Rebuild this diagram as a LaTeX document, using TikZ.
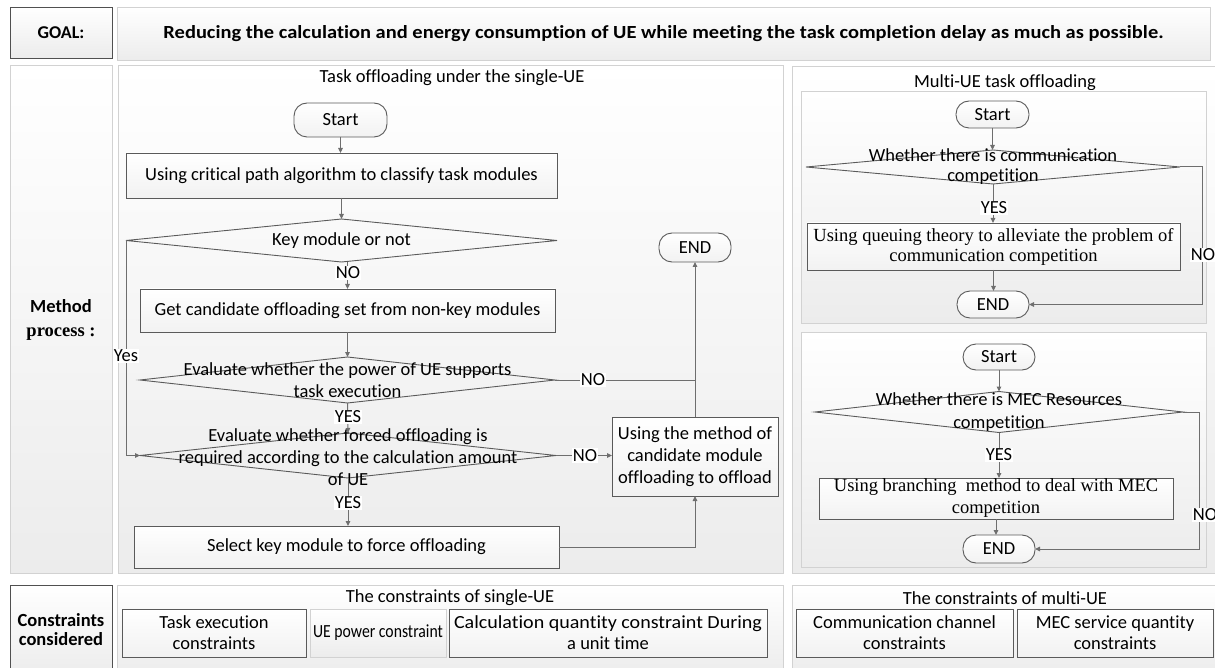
\documentclass[tikz,border=0pt]{standalone}
\usepackage{fontspec}
\setmainfont{Carlito}[Ligatures=NoCommon]
\newfontfamily\tnr{Liberation Serif}
\usetikzlibrary{arrows.meta}
\definecolor{pbord}{HTML}{D2D2D2}
\definecolor{pfill}{HTML}{ECECEC}
\definecolor{bbord}{HTML}{5A5A5A}
\definecolor{lcol}{HTML}{6E6E6E}
\definecolor{hbord}{HTML}{505050}
\begin{document}
\begin{tikzpicture}[x=1pt,y=-1pt,
  every node/.style={font=\fontsize{18.5}{22}\selectfont, text=black, inner sep=0pt, outer sep=0pt},
  sz/.style 2 args={minimum width=#1, minimum height=#2},
  panel/.style={draw=pbord, line width=0.8pt, top color=white, bottom color=pfill},
  headbox/.style={draw=hbord, line width=0.9pt, top color=white, bottom color=pfill},
  proc/.style={draw=bbord, line width=0.9pt, top color=white, bottom color=pfill!70},
  term/.style={proc, rounded corners=13pt},
  dia/.style={draw=bbord, line width=0.9pt},
  conn/.style={draw=lcol, line width=1pt, -{Triangle[length=5pt,width=4.5pt]}},
  plain/.style={draw=lcol, line width=1pt},
  lab/.style={fill=white, inner sep=1pt},
  sertext/.style={font=\tnr\fontsize{18.5}{20}\selectfont, align=center},
  cfont/.style={font=\fontsize{18.5}{21}\selectfont, align=center},
]
\useasboundingbox (0,0) rectangle (1215,668);
\fill[white] (0,0) rectangle (1215,668);

% ---------- header row ----------
\node[headbox, sz={102}{51}] (goal) at (61,32.5) {\fontsize{18}{20}\selectfont\bfseries GOAL:};
\node[panel, sz={1093}{53}] (goaltext) at (663.5,33.5)
  {\resizebox{1000pt}{\height}{\fontsize{18.5}{20}\selectfont\bfseries Reducing the calculation and energy consumption of UE while meeting the task completion delay as much as possible.}};

% ---------- method row ----------
\node[panel, sz={102}{508}] (method) at (61,319) {};
\node[align=center] (methodt) at (61,320) {{\bfseries Method}\\[2pt]{\tnr\bfseries process :}};
\node[panel, sz={665}{508}] (single) at (450.5,319) {};
\node (singlet) at (452,78) {Task offloading under the single-UE};
\node[panel, sz={428}{507}] (right) at (1006,319.5) {};
\node (multit) at (1005,83) {Multi-UE task offloading};
\node[panel, sz={405}{232}] (rbox1) at (1003.5,207) {};
\node[panel, sz={405}{235}] (rbox2) at (1003.5,449.5) {};

% ---------- constraints row ----------
\node[headbox, sz={102}{90}] (cons) at (61,630) {};
\node[align=center] (const) at (61,629.5) {\bfseries Constraints\\[-3pt]\bfseries considered};
\node[panel, sz={666}{90}] (cs) at (450,630) {};
\node[cfont] (cst) at (450,598) {The constraints of single-UE};
\node[panel, sz={428}{90}] (cm) at (1006,630) {};
\node[cfont] (cmt) at (1005,598) {The constraints of multi-UE};
\node[proc, sz={184}{48}, cfont] (te) at (214,633) {Task execution\\constraints};
\node[draw=pbord, line width=0.9pt, top color=white, bottom color=pfill, sz={136}{48}, cfont] (up) at (378,633) {\resizebox{130pt}{\height}{UE power constraint}};
\node[proc, sz={318}{48}, cfont] (calc) at (608,633) {\resizebox{308pt}{\height}{Calculation quantity constraint During}\\a unit time};
\node[proc, sz={217}{48}, cfont] (comm) at (904.5,633) {Communication channel\\constraints};
\node[proc, sz={196}{48}, cfont] (mec) at (1115,633) {MEC service quantity\\constraints};

% ---------- single-UE flow ----------
\node[term, sz={93}{34}] (s1) at (340.5,120) {Start};
\node[proc, sz={431}{45}] (b1) at (341.5,175.5) {Using critical path algorithm to classify task modules};
\node[sz={431}{43}] (d1) at (341.5,240.5) {};
\draw[dia] (d1.west) -- (d1.north) -- (d1.east) -- (d1.south) -- cycle;
\node (d1t) at (341.5,240.5) {Key module or not};
\node[proc, sz={415}{43}] (b2) at (347.5,310.5) {Get candidate offloading set from non-key modules};
\node[sz={415}{46}] (d2) at (347.5,380) {};
\draw[dia] (d2.west) -- (d2.north) -- (d2.east) -- (d2.south) -- cycle;
\node[align=center] (d2t) at (347.5,380) {Evaluate whether the power of UE supports\\task execution};
\node[sz={416}{45}] (d3) at (348,455.5) {};
\draw[dia] (d3.west) -- (d3.north) -- (d3.east) -- (d3.south) -- cycle;
\node[align=center] (d3t) at (348,457) {Evaluate whether forced offloading is\\required according to the calculation amount\\of UE};
\node[proc, sz={425}{42}] (sel) at (346.5,547) {Select key module to force offloading};
\node[proc, sz={166}{79}, align=center] (um) at (695,456.5) {Using the method of\\candidate module\\offloading to offload};
\node[term, sz={72}{29}] (end1) at (695,247.5) {END};

\draw[conn] (s1.south) -- (s1.south |- b1.north);
\draw[conn] (b1.south) -- (b1.south |- d1.north);
\draw[conn] (b2.north |- d1.south) -- (b2.north);
\draw[conn] (b2.south) -- (d2.north);
\draw[conn] (d2.south) -- (d3.north);
\draw[conn] (d3.south) -- (d3.south |- sel.north);
\draw[plain] (d2.east) -- (d2.east -| um.north);
\draw[conn] (um.north) -- (end1.south);
\draw[conn] (d3.east) -- (d3.east -| um.west);
\draw[conn] (sel.east) -- (sel.east -| um.south) -- (um.south);
\draw[conn] (d1.west) -- (d1.west |- d3.west) -- (d3.west);

\node[lab] (no1) at (348,273) {NO};
\node[lab] (no2) at (593,380) {NO};
\node[lab] (no3) at (585,455.5) {NO};
\node[lab] (yes1) at (348,417) {YES};
\node[lab] (yes2) at (348,503) {YES};
\node[lab] (yes3) at (126,356) {Yes};

% ---------- multi-UE flow 1 ----------
\node[term, sz={73}{27}] (s2) at (992.5,114.5) {Start};
\node[sz={374}{34}] (d4) at (993,167) {};
\draw[dia] (d4.west) -- (d4.north) -- (d4.east) -- (d4.south) -- cycle;
\node[align=center, font=\fontsize{18.5}{20}\selectfont] (d4t) at (993,167) {Whether there is communication\\competition};
\node[proc, sz={373}{47}, sertext] (q) at (993.5,246.5) {Using queuing theory to alleviate the problem of\\communication competition};
\node[term, sz={72}{27}] (end2) at (993,304.5) {END};
\draw[conn] (s2.south) -- (s2.south |- d4.north);
\draw[conn] (d4.south) -- (d4.south |- q.north);
\draw[conn] (q.south) -- (q.south |- end2.north);
\draw[conn] (d4.east) -- ++(22,0) |- (end2.east);
\node[lab] (yes4) at (994,208) {YES};
\node[lab] (no4) at (1203,255) {NO};

% ---------- multi-UE flow 2 ----------
\node[term, sz={72}{26}] (s3) at (999,357) {Start};
\node[sz={368}{41}] (d5) at (999,412) {};
\draw[dia] (d5.west) -- (d5.north) -- (d5.east) -- (d5.south) -- cycle;
\node[align=center, font=\fontsize{18.5}{23}\selectfont] (d5t) at (999,412) {Whether there is MEC Resources\\competition};
\node[proc, sz={354}{41}, sertext, font=\tnr\fontsize{18.5}{22}\selectfont] (br) at (996,498.5) {Using branching\ \ method to deal with MEC\\competition};
\node[term, sz={72}{28}] (end3) at (999,549) {END};
\draw[conn] (s3.south) -- (s3.south |- d5.north);
\draw[conn] (d5.south) -- (d5.south |- br.north);
\draw[conn] (br.south) -- (br.south |- end3.north);
\draw[conn] (d5.east) -- ++(16,0) |- (end3.east);
\node[lab] (yes5) at (999,455) {YES};
\node[lab] (no5) at (1205,515) {NO};
\end{tikzpicture}
\end{document}
